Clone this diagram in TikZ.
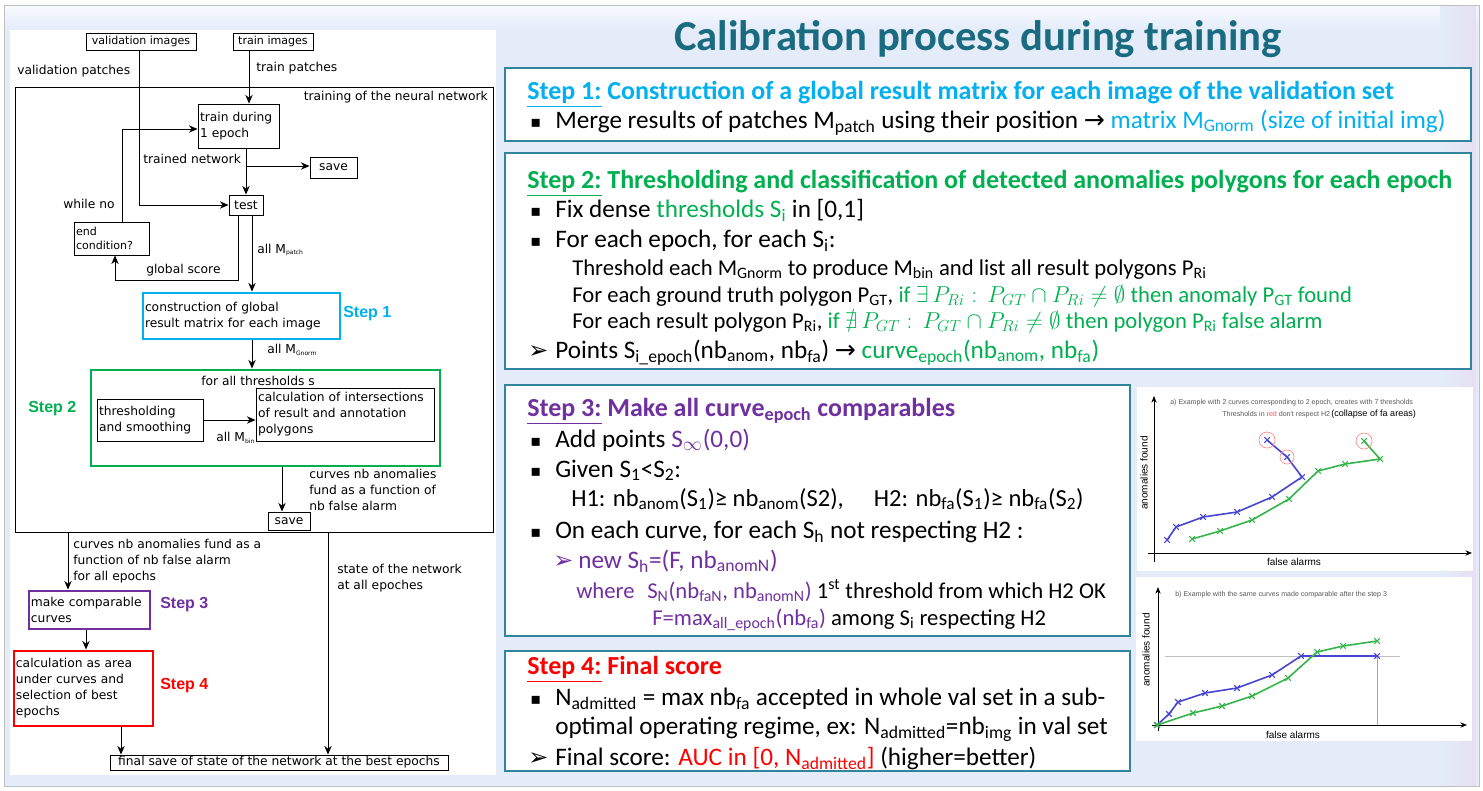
\documentclass[tikz,border=0pt]{standalone}
\usepackage{fontspec}
\usepackage{amssymb}
\setmainfont{Carlito}
\newfontfamily\dv{DejaVu Sans}
\newfontfamily\ls{Liberation Sans}
\usetikzlibrary{arrows.meta}
\definecolor{cyanS}{HTML}{00B0F0}
\definecolor{greenS}{HTML}{00B050}
\definecolor{purpS}{HTML}{7030A0}
\definecolor{redS}{HTML}{FF0000}
\definecolor{titleC}{HTML}{1A6A80}
\definecolor{boxC}{HTML}{31849B}
\definecolor{bgB}{HTML}{E4ECFA}
\definecolor{lavC}{HTML}{E6DFF2}
\definecolor{blueC}{HTML}{4646D2}
\definecolor{grnC}{HTML}{34B44A}
\newcommand\sbs[1]{\textsubscript{#1}}
\newcommand\bul{{\dv\fontsize{12}{12}\selectfont ▪}}
\newcommand\arw{{\dv\fontsize{18}{18}\selectfont ➢}}
\newcommand\rarr{{\dv →}}
\begin{document}
\begin{tikzpicture}[x=0.75pt,y=-0.75pt,
  fc/.style={font=\dv\fontsize{9.2}{12}\selectfont},
  fcs/.style={font=\dv\fontsize{8.3}{10.5}\selectfont},
  fbox/.style={draw, fc, line width=0.7pt, inner sep=1.5pt, align=left},
  arr/.style={-{Stealth[length=6.5pt,width=5.5pt]}, line width=0.7pt},
  lbl/.style={fc, inner sep=0, anchor=west, align=left},
  stl/.style={font=\ls\bfseries\fontsize{12}{14}\selectfont, inner sep=0, anchor=west},
  txt/.style={font=\fontsize{18.9}{22}\selectfont, inner sep=0, anchor=base west},
  txs/.style={font=\fontsize{17}{20}\selectfont, inner sep=0, anchor=base west},
  hd/.style={txt, font=\bfseries\fontsize{19.5}{22}\selectfont},
  rbox/.style={draw=boxC, fill=white, line width=0.9pt, inner sep=0},
  ptxt/.style={font=\ls\fontsize{5.3}{6}\selectfont, text=black!65, inner sep=0},
  axl/.style={font=\ls\fontsize{7.5}{8}\selectfont, inner sep=0},
  crvB/.style={blueC, line width=1.2pt, mark=x, mark size=3pt, mark options={line width=0.8pt}},
  crvG/.style={grnC, line width=1.2pt, mark=x, mark size=3pt, mark options={line width=0.8pt}},
  axis/.style={-{Stealth[length=5pt,width=4pt]}, line width=0.6pt}
]
\useasboundingbox (0,0) rectangle (1483,790);
% background
\fill[white] (0,0) rectangle (1483,790);
\filldraw[fill=bgB, draw=black!25] (4,5) rectangle (1479,786);
\shade[top color=white!70!bgB, bottom color=bgB] (5,6) rectangle (1478,30);
\shade[left color=bgB, right color=lavC] (1440,6) rectangle (1476,785);
\fill[white] (10,30) rectangle (496,775);

% ===== left flowchart =====
\node[fbox, fcs, minimum width=82.5pt, minimum height=12.75pt, align=center] (vimg) at (141,41.5) {validation images};
\node[fbox, fcs, minimum width=60pt, minimum height=12.75pt, align=center] (timg) at (273,41.5) {train images};
\node[draw, line width=0.7pt, minimum width=358.5pt, minimum height=333.75pt, inner sep=0] (frame) at (254,309.5) {};
\node[fbox, text width=57.75pt, minimum height=33pt] (train) at (238.5,126) {train during\\1 epoch};
\node[fbox, minimum width=35.25pt, minimum height=15.75pt] (save1) at (333.5,167.5) {save};
\node[fbox, minimum width=25.5pt, minimum height=15pt, align=center] (test) at (246,205) {test};
\node[fbox, fcs, text width=53.25pt, minimum height=24.75pt] (endc) at (111.5,238.5) {end\\condition?};
\node[fbox, draw=cyanS, line width=2.2pt, text width=144.75pt, minimum height=34.5pt] (step1) at (241.5,316) {construction of global\\result matrix for each image};
\node[draw=greenS, line width=2.2pt, minimum width=261.75pt, minimum height=72pt, inner sep=0] (step2) at (265.5,418) {};
\node[fbox, text width=76.5pt, minimum height=31.5pt] (thr) at (150,420) {thresholding\\and smoothing};
\node[fbox, text width=130.5pt, minimum height=39.75pt] (calc) at (345,414.5) {calculation of intersections\\of result and annotation\\polygons};
\node[fbox, minimum width=31.5pt, minimum height=13.5pt, align=center] (save2) at (289,521) {save};
\node[fbox, draw=purpS, line width=2.2pt, text width=87.75pt, minimum height=28.5pt] (comp) at (89.5,610) {make comparable\\curves};
\node[fbox, draw=redS, line width=2.2pt, text width=101.25pt, minimum height=56.25pt] (auc) at (83.5,688.5) {calculation as area\\under curves and\\selection of best\\epochs};
\node[fbox, minimum width=253.5pt, minimum height=11.25pt, inner sep=0.5pt, align=center] (final) at (279,762.5) {final save of state of the network at the best epochs};

% labels
\node[lbl] (lvp) at (17,71) {validation patches};
\node[lbl] (ltp) at (256,68) {train patches};
\node[lbl, anchor=east] (ltn) at (488,97) {training of the neural network};
\node[lbl] (ltrn) at (143,159) {trained network};
\node[lbl] (lwn) at (63,204) {while no};
\node[lbl] (lamp) at (257,250) {all M\sbs{\fontsize{4.5}{5}\selectfont patch}};
\node[lbl] (lgs) at (146,270) {global score};
\node[lbl] (lamg) at (267,350) {all M\sbs{\fontsize{4.5}{5}\selectfont Gnorm}};
\node[fc, inner sep=0] (lfat) at (258,381) {for all thresholds s};
\node[lbl] (lamb) at (216,438) {all M\sbs{\fontsize{4.5}{5}\selectfont bin}};
\node[lbl] (lcn) at (309,490) {curves nb anomalies\\fund as a function of\\nb false alarm};
\node[lbl] (lcn2) at (73,561) {curves nb anomalies fund as a\\function of nb false alarm\\for all epochs};
\node[lbl] (lsn) at (337,578) {state of the network\\at all epoches};
\node[stl, text=cyanS] (s1) at (343,314) {Step 1};
\node[stl, text=greenS] (s2) at (28,409) {Step 2};
\node[stl, text=purpS] (s3) at (160,605) {Step 3};
\node[stl, text=redS] (s4) at (160,686) {Step 4};

% connector coordinates
\coordinate (xv) at (139,0);
\coordinate (xtr) at (249,0);
\coordinate (xt) at (246,0);
\coordinate (xl) at (122,0);
\coordinate (xg) at (238,0);
\coordinate (xg2) at (115,0);
\coordinate (xa) at (252,0);
\coordinate (xb) at (282,0);
\coordinate (xc) at (68,0);
\coordinate (xd) at (328,0);
\coordinate (xe) at (86,0);
\coordinate (xf) at (121,0);
\coordinate (yb) at (0,166);
\coordinate (yl) at (0,129);
\coordinate (yg) at (0,280);

\draw[arr] (xv |- vimg.south) |- (test.west);
\draw[arr] (xtr |- timg.south) -- (xtr |- train.north);
\draw[arr] (xt |- train.south) -- (xt |- test.north);
\draw[arr] (xt |- yb) -- (save1.west |- yb);
\draw[arr] (xl |- endc.north) -- (xl |- yl) -- (train.west |- yl);
\draw[arr] (xg |- test.south) -- (xg |- yg) -- (xg2 |- yg) -- (xg2 |- endc.south);
\draw[arr] (xa |- test.south) -- (xa |- step1.north);
\draw[arr] (xa |- step1.south) -- (xa |- step2.north);
\draw[arr] (thr.east) -- (thr.east -| calc.west);
\draw[arr] (xb |- step2.south) -- (xb |- save2.north);
\draw[arr] (xc |- frame.south) -- (xc |- comp.north);
\draw[arr] (xd |- frame.south) -- (xd |- final.north);
\draw[arr] (xe |- comp.south) -- (xe |- auc.north);
\draw[arr] (xf |- auc.south) -- (xf |- final.north);

% ===== right side =====
\node[font=\bfseries\fontsize{32}{34}\selectfont, text=titleC, inner sep=0] (title) at (978,39) {Calibration process during training};

\node[rbox, minimum width=724.5pt, minimum height=54.75pt] (B1) at (988,104.5) {};
\node[rbox, minimum width=724.5pt, minimum height=162pt] (B2) at (988,261) {};
\node[rbox, minimum width=468.75pt, minimum height=188.25pt] (B3) at (817.5,510.5) {};
\node[rbox, minimum width=468.75pt, minimum height=90pt] (B4) at (817.5,711) {};

% Step 1
\node[hd, text=cyanS] (h1) at (527,99) {\underline{Step 1:}~Construction of a global result matrix for each image of the validation set};
\node[txt] (b1a) at (530,127) {\bul};
\node[txt] (t1a) at (555,128) {Merge results of patches M\sbs{patch} using their position \rarr{} \textcolor{cyanS}{matrix M\sbs{Gnorm} (size of initial img)}};
% Step 2
\node[hd, text=greenS] (h2) at (527,188) {\underline{Step 2:}~Thresholding and classification of detected anomalies polygons for each epoch};
\node[txt] (b2a) at (530,216) {\bul};
\node[txt] (t2a) at (555,217) {Fix dense \textcolor{greenS}{thresholds S\sbs{i}} in [0,1]};
\node[txt] (b2b) at (530,246) {\bul};
\node[txt] (t2b) at (555,247) {For each epoch, for each S\sbs{i}:};
\node[txs] (t2c) at (572,275) {Threshold each M\sbs{Gnorm} to produce M\sbs{bin} and list all result polygons P\sbs{Ri}};
\node[txs] (t2d) at (572,302) {For each ground truth polygon P\sbs{GT}, \textcolor{greenS}{if $\exists\, P_{Ri}:\, P_{GT}\cap P_{Ri}\neq\emptyset$ then anomaly P\sbs{GT} found}};
\node[txs] (t2e) at (572,328) {For each result polygon P\sbs{Ri}, \textcolor{greenS}{if $\nexists\, P_{GT}:\, P_{GT}\cap P_{Ri}\neq\emptyset$ then polygon P\sbs{Ri} false alarm}};
\node[txt] (a2) at (528,358) {\arw};
\node[txt] (t2f) at (555,358) {Points S\sbs{i\_epoch}(nb\sbs{anom}, nb\sbs{fa}) \rarr{} \textcolor{greenS}{curve\sbs{epoch}(nb\sbs{anom}, nb\sbs{fa})}};
% Step 3
\node[hd, text=purpS] (h3) at (527,416) {\underline{Step 3:}~Make all curve\sbs{epoch} comparables};
\node[txt] (b3a) at (530,446) {\bul};
\node[txt] (t3a) at (555,447) {Add points \textcolor{purpS}{S\sbs{$\infty$}(0,0)}};
\node[txt] (b3b) at (530,476) {\bul};
\node[txt] (t3b) at (555,477) {Given S\sbs{1}<S\sbs{2}:};
\node[txs, font=\fontsize{18.4}{20}\selectfont] (t3c) at (571,506) {H1: nb\sbs{anom}(S\sbs{1})≥ nb\sbs{anom}(S2),\quad\ H2: nb\sbs{fa}(S\sbs{1})≥ nb\sbs{fa}(S\sbs{2})};
\node[txt] (b3d) at (530,537) {\bul};
\node[txt] (t3d) at (555,538) {On each curve, for each S\sbs{h} not respecting H2 :};
\node[txt, text=purpS] (a3) at (553,568) {\arw};
\node[txt, text=purpS] (t3e) at (578,568) {new S\sbs{h}=(F, nb\sbs{anomN})};
\node[txs, text=purpS] (t3f) at (576,598) {where};
\node[txs] (t3g) at (647,598) {\textcolor{purpS}{S\sbs{N}(nb\sbs{faN}, nb\sbs{anomN})} 1\textsuperscript{st} threshold from which H2 OK};
\node[txs] (t3h) at (652,625) {\textcolor{purpS}{F=max\sbs{all\_epoch}(nb\sbs{fa})} among S\sbs{i} respecting H2};
% Step 4
\node[hd, text=redS] (h4) at (527,674) {\underline{Step 4:}~Final score};
\node[txt] (b4a) at (530,704) {\bul};
\node[txt] (t4a) at (555,705) {N\sbs{admitted} = max nb\sbs{fa} accepted in whole val set in a sub-};
\node[txt] (t4b) at (555,734) {optimal operating regime, ex: N\sbs{admitted}=nb\sbs{img} in val set};
\node[txt] (a4) at (528,765) {\arw};
\node[txt] (t4c) at (555,765) {Final score: \textcolor{redS}{AUC in [0, N\sbs{admitted}]} (higher=better)};

% ===== plot a =====
\fill[white] (1137,387) rectangle (1473,571);
\draw[axis] (1148,553) -- (1472,553);
\draw[axis] (1154,562) -- (1154,396);
\draw[crvB] plot coordinates {(1167,540) (1176,527) (1203,517) (1237,512) (1272,497) (1302,477) (1287,457) (1267,440)};
\draw[crvG] plot coordinates {(1192,539) (1220,531) (1252,520) (1289,499) (1318,471) (1345,464) (1380,459) (1364,441)};
\draw[red!45, line width=0.5pt] (1267,440) circle[radius=8] (1287,457) circle[radius=7] (1364,441) circle[radius=8];
\node[ptxt, anchor=west] (pa1) at (1170,403) {a) Example with 2 curves corresponding to 2 epoch, creates with 7 thresholds};
\node[ptxt, anchor=west] (pa2) at (1222,414) {Thresholds in \textcolor{red!70}{red} don't respect H2\,{\fontsize{6.8}{7}\selectfont\color{black}(collapse of fa areas)}};
\node[axl, rotate=90] (pay) at (1144,473) {anomalies found};
\node[axl] (pax) at (1294,562) {false alarms};

% ===== plot b =====
\fill[white] (1136,577) rectangle (1472,741);
\draw[black!25, line width=0.4pt] (1165,656) -- (1400,656);
\draw[black!35, line width=0.4pt] (1377,656) -- (1377,725);
\draw[axis] (1152,725) -- (1467,725);
\draw[axis] (1158,731) -- (1158,587);
\draw[crvB] plot coordinates {(1157,725) (1169,714) (1178,702) (1205,693) (1237,688) (1272,675) (1301,656) (1377,656)};
\draw[crvG] plot coordinates {(1157,725) (1193,713) (1222,706) (1252,696) (1288,678) (1317,652) (1343,646) (1377,641)};
\node[ptxt, anchor=west] (pb1) at (1175,595) {b) Example with the same curves made comparable after the step 3};
\node[axl, rotate=90] (pby) at (1146,650) {anomalies found};
\node[axl] (pbx) at (1293,735) {false alarms};
\end{tikzpicture}
\end{document}
